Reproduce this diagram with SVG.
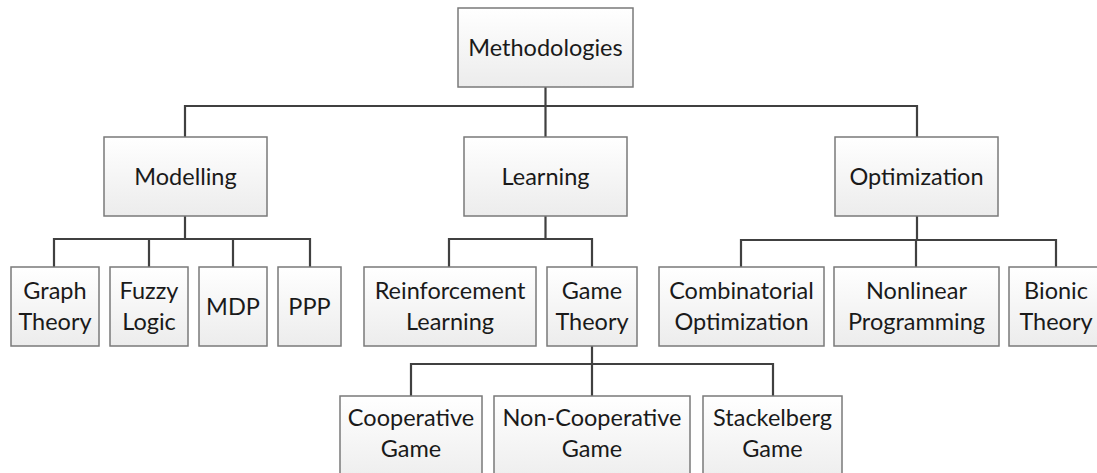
<svg xmlns="http://www.w3.org/2000/svg" width="1097" height="473" viewBox="0 0 1097 473">
<defs>
<linearGradient id="g" x1="0" y1="0" x2="0" y2="1">
<stop offset="0" stop-color="#ffffff"/>
<stop offset="1" stop-color="#ececec"/>
</linearGradient>
<style>
.box{fill:url(#g);stroke:#7a7a7a;stroke-width:1.5}
.t{font-family:Lato,"Open Sans","Liberation Sans",sans-serif;font-size:23.5px;fill:#1a1a1a;text-anchor:middle}
.c{fill:none;stroke:#404040;stroke-width:2.2}
</style>
</defs>
<rect width="1097" height="473" fill="#ffffff"/>
<g id="connectors">
<path class="c" d="M545.5 87V137M185 137V106H917V137"/>
<path class="c" d="M185 216V239M54 267V239H310V267M149 239V267M233 239V267"/>
<path class="c" d="M545.5 216V239M449 267V239H592V267"/>
<path class="c" d="M592 346V364M411 396V364H773V396M592 364V396"/>
<path class="c" d="M917 216V240M741 267V240H1056V267M916 240V267"/>
</g>
<g id="methodologies"><rect class="box" x="458" y="8" width="175" height="79"/><text class="t" x="545.5" y="55.5">Methodologies</text></g>
<g id="modelling"><rect class="box" x="104" y="137" width="163" height="79"/><text class="t" x="185.5" y="184.5">Modelling</text></g>
<g id="learning"><rect class="box" x="464" y="137" width="163" height="79"/><text class="t" x="545.5" y="184.5">Learning</text></g>
<g id="optimization"><rect class="box" x="835" y="137" width="163" height="79"/><text class="t" x="916.5" y="184.5">Optimization</text></g>
<g id="graph-theory"><rect class="box" x="11" y="267" width="88" height="79"/><text class="t" x="55" y="299">Graph</text><text class="t" x="55" y="330">Theory</text></g>
<g id="fuzzy-logic"><rect class="box" x="110" y="267" width="78" height="79"/><text class="t" x="149" y="299">Fuzzy</text><text class="t" x="149" y="330">Logic</text></g>
<g id="mdp"><rect class="box" x="199" y="267" width="68" height="79"/><text class="t" x="233" y="314.5">MDP</text></g>
<g id="ppp"><rect class="box" x="278" y="267" width="63" height="79"/><text class="t" x="309.5" y="314.5">PPP</text></g>
<g id="reinforcement-learning"><rect class="box" x="364" y="267" width="172" height="79"/><text class="t" x="450" y="299">Reinforcement</text><text class="t" x="450" y="330">Learning</text></g>
<g id="game-theory"><rect class="box" x="547" y="267" width="90" height="79"/><text class="t" x="592" y="299">Game</text><text class="t" x="592" y="330">Theory</text></g>
<g id="combinatorial-optimization"><rect class="box" x="659" y="267" width="165" height="79"/><text class="t" x="741.5" y="299">Combinatorial</text><text class="t" x="741.5" y="330">Optimization</text></g>
<g id="nonlinear-programming"><rect class="box" x="834" y="267" width="165" height="79"/><text class="t" x="916.5" y="299">Nonlinear</text><text class="t" x="916.5" y="330">Programming</text></g>
<g id="bionic-theory"><rect class="box" x="1009" y="267" width="95" height="79"/><text class="t" x="1056" y="299">Bionic</text><text class="t" x="1056" y="330">Theory</text></g>
<g id="cooperative-game"><rect class="box" x="340" y="396" width="142" height="90"/><text class="t" x="411" y="426">Cooperative</text><text class="t" x="411" y="457">Game</text></g>
<g id="non-cooperative-game"><rect class="box" x="494" y="396" width="196" height="90"/><text class="t" x="592" y="426">Non-Cooperative</text><text class="t" x="592" y="457">Game</text></g>
<g id="stackelberg-game"><rect class="box" x="703" y="396" width="139" height="90"/><text class="t" x="772.5" y="426">Stackelberg</text><text class="t" x="772.5" y="457">Game</text></g>
</svg>
